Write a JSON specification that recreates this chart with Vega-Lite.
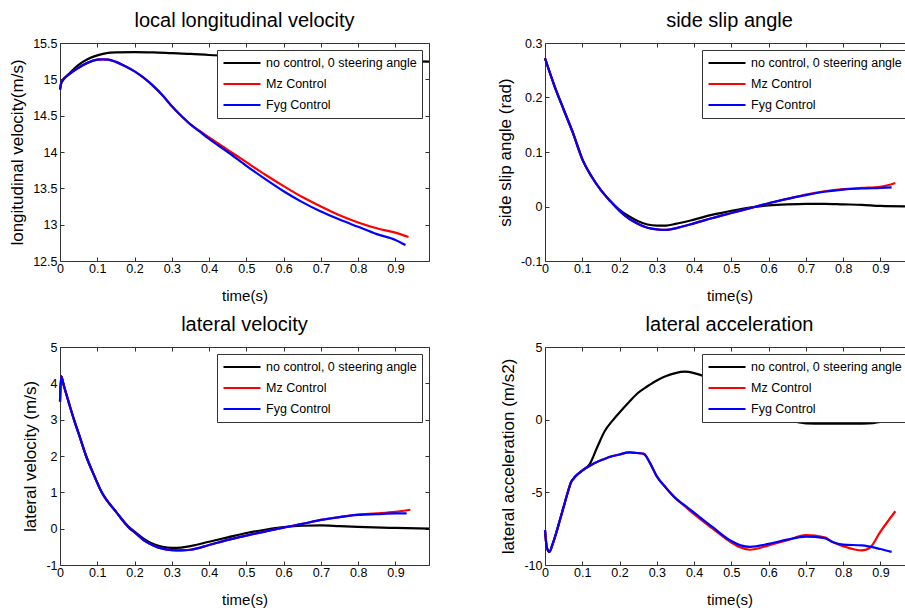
{
  "$schema": "https://vega.github.io/schema/vega-lite/v6.json",
  "padding": {"left": 8, "top": 10, "right": 0, "bottom": 0},
  "background": "white",
  "datasets": {
    "lon": [
      {"t":0,"v":14.86,"s":"no control, 0 steering angle"},{"t":0.004,"v":14.96,"s":"no control, 0 steering angle"},{"t":0.025,"v":15.08,"s":"no control, 0 steering angle"},{"t":0.05,"v":15.2,"s":"no control, 0 steering angle"},{"t":0.075,"v":15.28,"s":"no control, 0 steering angle"},{"t":0.1,"v":15.33,"s":"no control, 0 steering angle"},{"t":0.125,"v":15.36,"s":"no control, 0 steering angle"},{"t":0.15,"v":15.37,"s":"no control, 0 steering angle"},{"t":0.2,"v":15.375,"s":"no control, 0 steering angle"},{"t":0.25,"v":15.37,"s":"no control, 0 steering angle"},{"t":0.3,"v":15.36,"s":"no control, 0 steering angle"},{"t":0.35,"v":15.35,"s":"no control, 0 steering angle"},{"t":0.4,"v":15.335,"s":"no control, 0 steering angle"},{"t":0.5,"v":15.32,"s":"no control, 0 steering angle"},{"t":0.6,"v":15.3,"s":"no control, 0 steering angle"},{"t":0.7,"v":15.285,"s":"no control, 0 steering angle"},{"t":0.8,"v":15.27,"s":"no control, 0 steering angle"},{"t":0.9,"v":15.255,"s":"no control, 0 steering angle"},{"t":0.99,"v":15.245,"s":"no control, 0 steering angle"},
      {"t":0,"v":14.86,"s":"Mz Control"},{"t":0.004,"v":14.96,"s":"Mz Control"},{"t":0.025,"v":15.07,"s":"Mz Control"},{"t":0.05,"v":15.16,"s":"Mz Control"},{"t":0.075,"v":15.23,"s":"Mz Control"},{"t":0.1,"v":15.27,"s":"Mz Control"},{"t":0.115,"v":15.275,"s":"Mz Control"},{"t":0.13,"v":15.27,"s":"Mz Control"},{"t":0.15,"v":15.24,"s":"Mz Control"},{"t":0.175,"v":15.18,"s":"Mz Control"},{"t":0.2,"v":15.11,"s":"Mz Control"},{"t":0.225,"v":15.02,"s":"Mz Control"},{"t":0.25,"v":14.91,"s":"Mz Control"},{"t":0.275,"v":14.78,"s":"Mz Control"},{"t":0.3,"v":14.63,"s":"Mz Control"},{"t":0.325,"v":14.5,"s":"Mz Control"},{"t":0.35,"v":14.38,"s":"Mz Control"},{"t":0.375,"v":14.29,"s":"Mz Control"},{"t":0.4,"v":14.2,"s":"Mz Control"},{"t":0.45,"v":14.03,"s":"Mz Control"},{"t":0.5,"v":13.86,"s":"Mz Control"},{"t":0.55,"v":13.69,"s":"Mz Control"},{"t":0.6,"v":13.53,"s":"Mz Control"},{"t":0.65,"v":13.38,"s":"Mz Control"},{"t":0.7,"v":13.25,"s":"Mz Control"},{"t":0.75,"v":13.13,"s":"Mz Control"},{"t":0.8,"v":13.03,"s":"Mz Control"},{"t":0.85,"v":12.95,"s":"Mz Control"},{"t":0.9,"v":12.89,"s":"Mz Control"},{"t":0.935,"v":12.83,"s":"Mz Control"},
      {"t":0,"v":14.86,"s":"Fyg Control"},{"t":0.004,"v":14.96,"s":"Fyg Control"},{"t":0.025,"v":15.07,"s":"Fyg Control"},{"t":0.05,"v":15.16,"s":"Fyg Control"},{"t":0.075,"v":15.23,"s":"Fyg Control"},{"t":0.1,"v":15.27,"s":"Fyg Control"},{"t":0.115,"v":15.275,"s":"Fyg Control"},{"t":0.13,"v":15.27,"s":"Fyg Control"},{"t":0.15,"v":15.24,"s":"Fyg Control"},{"t":0.175,"v":15.18,"s":"Fyg Control"},{"t":0.2,"v":15.11,"s":"Fyg Control"},{"t":0.225,"v":15.02,"s":"Fyg Control"},{"t":0.25,"v":14.91,"s":"Fyg Control"},{"t":0.275,"v":14.78,"s":"Fyg Control"},{"t":0.3,"v":14.63,"s":"Fyg Control"},{"t":0.325,"v":14.5,"s":"Fyg Control"},{"t":0.35,"v":14.38,"s":"Fyg Control"},{"t":0.375,"v":14.28,"s":"Fyg Control"},{"t":0.4,"v":14.18,"s":"Fyg Control"},{"t":0.45,"v":14.0,"s":"Fyg Control"},{"t":0.5,"v":13.81,"s":"Fyg Control"},{"t":0.55,"v":13.63,"s":"Fyg Control"},{"t":0.6,"v":13.46,"s":"Fyg Control"},{"t":0.65,"v":13.31,"s":"Fyg Control"},{"t":0.7,"v":13.18,"s":"Fyg Control"},{"t":0.75,"v":13.07,"s":"Fyg Control"},{"t":0.8,"v":12.97,"s":"Fyg Control"},{"t":0.85,"v":12.87,"s":"Fyg Control"},{"t":0.9,"v":12.79,"s":"Fyg Control"},{"t":0.927,"v":12.72,"s":"Fyg Control"}
    ],
    "slip": [
      {"t":0,"v":0.272,"s":"no control, 0 steering angle"},{"t":0.025,"v":0.222,"s":"no control, 0 steering angle"},{"t":0.05,"v":0.178,"s":"no control, 0 steering angle"},{"t":0.075,"v":0.135,"s":"no control, 0 steering angle"},{"t":0.1,"v":0.087,"s":"no control, 0 steering angle"},{"t":0.125,"v":0.055,"s":"no control, 0 steering angle"},{"t":0.15,"v":0.03,"s":"no control, 0 steering angle"},{"t":0.175,"v":0.01,"s":"no control, 0 steering angle"},{"t":0.2,"v":-0.006,"s":"no control, 0 steering angle"},{"t":0.225,"v":-0.018,"s":"no control, 0 steering angle"},{"t":0.25,"v":-0.027,"s":"no control, 0 steering angle"},{"t":0.275,"v":-0.033,"s":"no control, 0 steering angle"},{"t":0.3,"v":-0.035,"s":"no control, 0 steering angle"},{"t":0.325,"v":-0.035,"s":"no control, 0 steering angle"},{"t":0.35,"v":-0.032,"s":"no control, 0 steering angle"},{"t":0.4,"v":-0.024,"s":"no control, 0 steering angle"},{"t":0.45,"v":-0.015,"s":"no control, 0 steering angle"},{"t":0.5,"v":-0.008,"s":"no control, 0 steering angle"},{"t":0.55,"v":-0.002,"s":"no control, 0 steering angle"},{"t":0.6,"v":0.002,"s":"no control, 0 steering angle"},{"t":0.65,"v":0.004,"s":"no control, 0 steering angle"},{"t":0.7,"v":0.005,"s":"no control, 0 steering angle"},{"t":0.75,"v":0.005,"s":"no control, 0 steering angle"},{"t":0.8,"v":0.004,"s":"no control, 0 steering angle"},{"t":0.85,"v":0.003,"s":"no control, 0 steering angle"},{"t":0.9,"v":0.001,"s":"no control, 0 steering angle"},{"t":0.99,"v":0.0,"s":"no control, 0 steering angle"},
      {"t":0,"v":0.272,"s":"Mz Control"},{"t":0.025,"v":0.222,"s":"Mz Control"},{"t":0.05,"v":0.178,"s":"Mz Control"},{"t":0.075,"v":0.135,"s":"Mz Control"},{"t":0.1,"v":0.087,"s":"Mz Control"},{"t":0.125,"v":0.055,"s":"Mz Control"},{"t":0.15,"v":0.03,"s":"Mz Control"},{"t":0.175,"v":0.01,"s":"Mz Control"},{"t":0.2,"v":-0.008,"s":"Mz Control"},{"t":0.225,"v":-0.022,"s":"Mz Control"},{"t":0.25,"v":-0.032,"s":"Mz Control"},{"t":0.275,"v":-0.039,"s":"Mz Control"},{"t":0.3,"v":-0.042,"s":"Mz Control"},{"t":0.325,"v":-0.043,"s":"Mz Control"},{"t":0.35,"v":-0.04,"s":"Mz Control"},{"t":0.4,"v":-0.031,"s":"Mz Control"},{"t":0.45,"v":-0.021,"s":"Mz Control"},{"t":0.5,"v":-0.012,"s":"Mz Control"},{"t":0.55,"v":-0.003,"s":"Mz Control"},{"t":0.6,"v":0.006,"s":"Mz Control"},{"t":0.65,"v":0.014,"s":"Mz Control"},{"t":0.7,"v":0.022,"s":"Mz Control"},{"t":0.75,"v":0.028,"s":"Mz Control"},{"t":0.8,"v":0.032,"s":"Mz Control"},{"t":0.85,"v":0.034,"s":"Mz Control"},{"t":0.9,"v":0.036,"s":"Mz Control"},{"t":0.94,"v":0.043,"s":"Mz Control"},
      {"t":0,"v":0.272,"s":"Fyg Control"},{"t":0.025,"v":0.222,"s":"Fyg Control"},{"t":0.05,"v":0.178,"s":"Fyg Control"},{"t":0.075,"v":0.135,"s":"Fyg Control"},{"t":0.1,"v":0.087,"s":"Fyg Control"},{"t":0.125,"v":0.055,"s":"Fyg Control"},{"t":0.15,"v":0.03,"s":"Fyg Control"},{"t":0.175,"v":0.01,"s":"Fyg Control"},{"t":0.2,"v":-0.008,"s":"Fyg Control"},{"t":0.225,"v":-0.022,"s":"Fyg Control"},{"t":0.25,"v":-0.032,"s":"Fyg Control"},{"t":0.275,"v":-0.039,"s":"Fyg Control"},{"t":0.3,"v":-0.042,"s":"Fyg Control"},{"t":0.325,"v":-0.043,"s":"Fyg Control"},{"t":0.35,"v":-0.04,"s":"Fyg Control"},{"t":0.4,"v":-0.031,"s":"Fyg Control"},{"t":0.45,"v":-0.021,"s":"Fyg Control"},{"t":0.5,"v":-0.012,"s":"Fyg Control"},{"t":0.55,"v":-0.003,"s":"Fyg Control"},{"t":0.6,"v":0.006,"s":"Fyg Control"},{"t":0.65,"v":0.014,"s":"Fyg Control"},{"t":0.7,"v":0.021,"s":"Fyg Control"},{"t":0.75,"v":0.027,"s":"Fyg Control"},{"t":0.8,"v":0.031,"s":"Fyg Control"},{"t":0.85,"v":0.033,"s":"Fyg Control"},{"t":0.9,"v":0.034,"s":"Fyg Control"},{"t":0.93,"v":0.035,"s":"Fyg Control"}
    ],
    "latv": [
      {"t":0,"v":3.5,"s":"no control, 0 steering angle"},{"t":0.003,"v":4.2,"s":"no control, 0 steering angle"},{"t":0.01,"v":3.95,"s":"no control, 0 steering angle"},{"t":0.025,"v":3.42,"s":"no control, 0 steering angle"},{"t":0.0375,"v":3.0,"s":"no control, 0 steering angle"},{"t":0.05,"v":2.62,"s":"no control, 0 steering angle"},{"t":0.07,"v":2.0,"s":"no control, 0 steering angle"},{"t":0.09,"v":1.5,"s":"no control, 0 steering angle"},{"t":0.112,"v":1.0,"s":"no control, 0 steering angle"},{"t":0.15,"v":0.47,"s":"no control, 0 steering angle"},{"t":0.1875,"v":0.02,"s":"no control, 0 steering angle"},{"t":0.2,"v":-0.08,"s":"no control, 0 steering angle"},{"t":0.225,"v":-0.28,"s":"no control, 0 steering angle"},{"t":0.25,"v":-0.42,"s":"no control, 0 steering angle"},{"t":0.275,"v":-0.5,"s":"no control, 0 steering angle"},{"t":0.3,"v":-0.53,"s":"no control, 0 steering angle"},{"t":0.325,"v":-0.52,"s":"no control, 0 steering angle"},{"t":0.35,"v":-0.48,"s":"no control, 0 steering angle"},{"t":0.4,"v":-0.36,"s":"no control, 0 steering angle"},{"t":0.45,"v":-0.24,"s":"no control, 0 steering angle"},{"t":0.5,"v":-0.12,"s":"no control, 0 steering angle"},{"t":0.55,"v":-0.03,"s":"no control, 0 steering angle"},{"t":0.6,"v":0.04,"s":"no control, 0 steering angle"},{"t":0.65,"v":0.08,"s":"no control, 0 steering angle"},{"t":0.7,"v":0.09,"s":"no control, 0 steering angle"},{"t":0.75,"v":0.07,"s":"no control, 0 steering angle"},{"t":0.8,"v":0.05,"s":"no control, 0 steering angle"},{"t":0.9,"v":0.02,"s":"no control, 0 steering angle"},{"t":0.99,"v":0.0,"s":"no control, 0 steering angle"},
      {"t":0,"v":3.5,"s":"Mz Control"},{"t":0.003,"v":4.2,"s":"Mz Control"},{"t":0.01,"v":3.95,"s":"Mz Control"},{"t":0.025,"v":3.42,"s":"Mz Control"},{"t":0.0375,"v":3.0,"s":"Mz Control"},{"t":0.05,"v":2.62,"s":"Mz Control"},{"t":0.07,"v":2.0,"s":"Mz Control"},{"t":0.09,"v":1.5,"s":"Mz Control"},{"t":0.112,"v":1.0,"s":"Mz Control"},{"t":0.15,"v":0.47,"s":"Mz Control"},{"t":0.1875,"v":0.0,"s":"Mz Control"},{"t":0.2,"v":-0.1,"s":"Mz Control"},{"t":0.225,"v":-0.32,"s":"Mz Control"},{"t":0.25,"v":-0.46,"s":"Mz Control"},{"t":0.275,"v":-0.55,"s":"Mz Control"},{"t":0.3,"v":-0.59,"s":"Mz Control"},{"t":0.325,"v":-0.6,"s":"Mz Control"},{"t":0.35,"v":-0.58,"s":"Mz Control"},{"t":0.4,"v":-0.45,"s":"Mz Control"},{"t":0.45,"v":-0.31,"s":"Mz Control"},{"t":0.5,"v":-0.19,"s":"Mz Control"},{"t":0.55,"v":-0.08,"s":"Mz Control"},{"t":0.6,"v":0.03,"s":"Mz Control"},{"t":0.65,"v":0.13,"s":"Mz Control"},{"t":0.7,"v":0.24,"s":"Mz Control"},{"t":0.75,"v":0.32,"s":"Mz Control"},{"t":0.8,"v":0.39,"s":"Mz Control"},{"t":0.85,"v":0.42,"s":"Mz Control"},{"t":0.9,"v":0.46,"s":"Mz Control"},{"t":0.94,"v":0.52,"s":"Mz Control"},
      {"t":0,"v":3.5,"s":"Fyg Control"},{"t":0.003,"v":4.2,"s":"Fyg Control"},{"t":0.01,"v":3.95,"s":"Fyg Control"},{"t":0.025,"v":3.42,"s":"Fyg Control"},{"t":0.0375,"v":3.0,"s":"Fyg Control"},{"t":0.05,"v":2.62,"s":"Fyg Control"},{"t":0.07,"v":2.0,"s":"Fyg Control"},{"t":0.09,"v":1.5,"s":"Fyg Control"},{"t":0.112,"v":1.0,"s":"Fyg Control"},{"t":0.15,"v":0.47,"s":"Fyg Control"},{"t":0.1875,"v":0.0,"s":"Fyg Control"},{"t":0.2,"v":-0.1,"s":"Fyg Control"},{"t":0.225,"v":-0.32,"s":"Fyg Control"},{"t":0.25,"v":-0.46,"s":"Fyg Control"},{"t":0.275,"v":-0.55,"s":"Fyg Control"},{"t":0.3,"v":-0.59,"s":"Fyg Control"},{"t":0.325,"v":-0.6,"s":"Fyg Control"},{"t":0.35,"v":-0.58,"s":"Fyg Control"},{"t":0.4,"v":-0.45,"s":"Fyg Control"},{"t":0.45,"v":-0.31,"s":"Fyg Control"},{"t":0.5,"v":-0.19,"s":"Fyg Control"},{"t":0.55,"v":-0.08,"s":"Fyg Control"},{"t":0.6,"v":0.03,"s":"Fyg Control"},{"t":0.65,"v":0.13,"s":"Fyg Control"},{"t":0.7,"v":0.24,"s":"Fyg Control"},{"t":0.75,"v":0.32,"s":"Fyg Control"},{"t":0.8,"v":0.38,"s":"Fyg Control"},{"t":0.85,"v":0.4,"s":"Fyg Control"},{"t":0.9,"v":0.42,"s":"Fyg Control"},{"t":0.93,"v":0.42,"s":"Fyg Control"}
    ],
    "lata": [
      {"t":0,"v":-7.6,"s":"no control, 0 steering angle"},{"t":0.005,"v":-8.8,"s":"no control, 0 steering angle"},{"t":0.012,"v":-9.1,"s":"no control, 0 steering angle"},{"t":0.02,"v":-8.6,"s":"no control, 0 steering angle"},{"t":0.03,"v":-7.8,"s":"no control, 0 steering angle"},{"t":0.04,"v":-6.9,"s":"no control, 0 steering angle"},{"t":0.05,"v":-6.0,"s":"no control, 0 steering angle"},{"t":0.06,"v":-5.1,"s":"no control, 0 steering angle"},{"t":0.07,"v":-4.3,"s":"no control, 0 steering angle"},{"t":0.08,"v":-3.95,"s":"no control, 0 steering angle"},{"t":0.1,"v":-3.5,"s":"no control, 0 steering angle"},{"t":0.12,"v":-3.05,"s":"no control, 0 steering angle"},{"t":0.14,"v":-1.9,"s":"no control, 0 steering angle"},{"t":0.16,"v":-0.8,"s":"no control, 0 steering angle"},{"t":0.18,"v":-0.1,"s":"no control, 0 steering angle"},{"t":0.2,"v":0.5,"s":"no control, 0 steering angle"},{"t":0.225,"v":1.2,"s":"no control, 0 steering angle"},{"t":0.25,"v":1.85,"s":"no control, 0 steering angle"},{"t":0.275,"v":2.3,"s":"no control, 0 steering angle"},{"t":0.3,"v":2.7,"s":"no control, 0 steering angle"},{"t":0.325,"v":3.0,"s":"no control, 0 steering angle"},{"t":0.35,"v":3.2,"s":"no control, 0 steering angle"},{"t":0.375,"v":3.3,"s":"no control, 0 steering angle"},{"t":0.4,"v":3.2,"s":"no control, 0 steering angle"},{"t":0.425,"v":3.0,"s":"no control, 0 steering angle"},{"t":0.45,"v":2.6,"s":"no control, 0 steering angle"},{"t":0.5,"v":1.8,"s":"no control, 0 steering angle"},{"t":0.55,"v":1.0,"s":"no control, 0 steering angle"},{"t":0.6,"v":0.4,"s":"no control, 0 steering angle"},{"t":0.65,"v":0.0,"s":"no control, 0 steering angle"},{"t":0.7,"v":-0.25,"s":"no control, 0 steering angle"},{"t":0.75,"v":-0.28,"s":"no control, 0 steering angle"},{"t":0.8,"v":-0.28,"s":"no control, 0 steering angle"},{"t":0.85,"v":-0.27,"s":"no control, 0 steering angle"},{"t":0.88,"v":-0.24,"s":"no control, 0 steering angle"},{"t":0.9,"v":-0.15,"s":"no control, 0 steering angle"},{"t":0.99,"v":-0.1,"s":"no control, 0 steering angle"},
      {"t":0,"v":-7.6,"s":"Mz Control"},{"t":0.005,"v":-8.8,"s":"Mz Control"},{"t":0.012,"v":-9.1,"s":"Mz Control"},{"t":0.02,"v":-8.6,"s":"Mz Control"},{"t":0.03,"v":-7.8,"s":"Mz Control"},{"t":0.04,"v":-6.9,"s":"Mz Control"},{"t":0.05,"v":-6.0,"s":"Mz Control"},{"t":0.06,"v":-5.1,"s":"Mz Control"},{"t":0.07,"v":-4.3,"s":"Mz Control"},{"t":0.08,"v":-3.95,"s":"Mz Control"},{"t":0.1,"v":-3.5,"s":"Mz Control"},{"t":0.125,"v":-3.1,"s":"Mz Control"},{"t":0.15,"v":-2.8,"s":"Mz Control"},{"t":0.175,"v":-2.55,"s":"Mz Control"},{"t":0.2,"v":-2.4,"s":"Mz Control"},{"t":0.225,"v":-2.25,"s":"Mz Control"},{"t":0.25,"v":-2.3,"s":"Mz Control"},{"t":0.265,"v":-2.35,"s":"Mz Control"},{"t":0.28,"v":-2.9,"s":"Mz Control"},{"t":0.3,"v":-3.9,"s":"Mz Control"},{"t":0.325,"v":-4.7,"s":"Mz Control"},{"t":0.35,"v":-5.4,"s":"Mz Control"},{"t":0.375,"v":-5.95,"s":"Mz Control"},{"t":0.4,"v":-6.5,"s":"Mz Control"},{"t":0.45,"v":-7.5,"s":"Mz Control"},{"t":0.5,"v":-8.45,"s":"Mz Control"},{"t":0.525,"v":-8.8,"s":"Mz Control"},{"t":0.55,"v":-8.95,"s":"Mz Control"},{"t":0.6,"v":-8.65,"s":"Mz Control"},{"t":0.65,"v":-8.3,"s":"Mz Control"},{"t":0.7,"v":-7.95,"s":"Mz Control"},{"t":0.75,"v":-8.1,"s":"Mz Control"},{"t":0.77,"v":-8.4,"s":"Mz Control"},{"t":0.8,"v":-8.7,"s":"Mz Control"},{"t":0.85,"v":-9.0,"s":"Mz Control"},{"t":0.87,"v":-8.85,"s":"Mz Control"},{"t":0.9,"v":-7.7,"s":"Mz Control"},{"t":0.94,"v":-6.3,"s":"Mz Control"},
      {"t":0,"v":-7.6,"s":"Fyg Control"},{"t":0.005,"v":-8.8,"s":"Fyg Control"},{"t":0.012,"v":-9.1,"s":"Fyg Control"},{"t":0.02,"v":-8.6,"s":"Fyg Control"},{"t":0.03,"v":-7.8,"s":"Fyg Control"},{"t":0.04,"v":-6.9,"s":"Fyg Control"},{"t":0.05,"v":-6.0,"s":"Fyg Control"},{"t":0.06,"v":-5.1,"s":"Fyg Control"},{"t":0.07,"v":-4.3,"s":"Fyg Control"},{"t":0.08,"v":-3.95,"s":"Fyg Control"},{"t":0.1,"v":-3.5,"s":"Fyg Control"},{"t":0.125,"v":-3.1,"s":"Fyg Control"},{"t":0.15,"v":-2.8,"s":"Fyg Control"},{"t":0.175,"v":-2.55,"s":"Fyg Control"},{"t":0.2,"v":-2.4,"s":"Fyg Control"},{"t":0.225,"v":-2.25,"s":"Fyg Control"},{"t":0.25,"v":-2.3,"s":"Fyg Control"},{"t":0.265,"v":-2.35,"s":"Fyg Control"},{"t":0.28,"v":-2.9,"s":"Fyg Control"},{"t":0.3,"v":-3.9,"s":"Fyg Control"},{"t":0.325,"v":-4.7,"s":"Fyg Control"},{"t":0.35,"v":-5.4,"s":"Fyg Control"},{"t":0.375,"v":-5.9,"s":"Fyg Control"},{"t":0.4,"v":-6.4,"s":"Fyg Control"},{"t":0.45,"v":-7.4,"s":"Fyg Control"},{"t":0.5,"v":-8.35,"s":"Fyg Control"},{"t":0.525,"v":-8.65,"s":"Fyg Control"},{"t":0.55,"v":-8.75,"s":"Fyg Control"},{"t":0.6,"v":-8.55,"s":"Fyg Control"},{"t":0.65,"v":-8.25,"s":"Fyg Control"},{"t":0.7,"v":-8.05,"s":"Fyg Control"},{"t":0.75,"v":-8.15,"s":"Fyg Control"},{"t":0.77,"v":-8.4,"s":"Fyg Control"},{"t":0.8,"v":-8.6,"s":"Fyg Control"},{"t":0.85,"v":-8.65,"s":"Fyg Control"},{"t":0.9,"v":-8.9,"s":"Fyg Control"},{"t":0.93,"v":-9.1,"s":"Fyg Control"}
    ]
  },
  "columns": 2,
  "bounds": "flush",
  "spacing": {"row": 86, "column": 116},
  "resolve": {"scale": {"color": "independent"}, "legend": {"color": "independent"}},
  "concat": [
    {
      "title": "local longitudinal velocity",
      "width": 369, "height": 218,
      "data": {"name": "lon"},
      "layer": [
        {"mark": {"type": "line"},
         "encoding": {
           "x": {"field": "t", "type": "quantitative", "scale": {"domain": [0, 0.99], "nice": false}, "axis": {"title": "time(s)", "values": [0,0.1,0.2,0.3,0.4,0.5,0.6,0.7,0.8,0.9]}},
           "y": {"field": "v", "type": "quantitative", "scale": {"domain": [12.5, 15.5], "nice": false, "zero": false}, "axis": {"title": "longitudinal velocity(m/s)", "values": [12.5,13,13.5,14,14.5,15,15.5]}},
           "color": {"field": "s", "type": "nominal", "sort": null, "scale": {"domain": ["no control, 0 steering angle", "Mz Control", "Fyg Control"], "range": ["#000000", "#ff0000", "#0000ff"]}, "legend": {"title": null}}
         }},
        {"mark": {"type": "line", "opacity": 0},
         "encoding": {
           "x": {"field": "t", "type": "quantitative", "axis": {"orient": "top", "labels": false, "title": null, "values": [0,0.1,0.2,0.3,0.4,0.5,0.6,0.7,0.8,0.9]}},
           "y": {"field": "v", "type": "quantitative", "axis": {"orient": "right", "labels": false, "title": null, "values": [12.5,13,13.5,14,14.5,15,15.5]}}
         }}
      ],
      "resolve": {"axis": {"x": "independent", "y": "independent"}}
    },
    {
      "title": "side slip angle",
      "width": 369, "height": 218,
      "data": {"name": "slip"},
      "layer": [
        {"mark": {"type": "line"},
         "encoding": {
           "x": {"field": "t", "type": "quantitative", "scale": {"domain": [0, 0.99], "nice": false}, "axis": {"title": "time(s)", "values": [0,0.1,0.2,0.3,0.4,0.5,0.6,0.7,0.8,0.9]}},
           "y": {"field": "v", "type": "quantitative", "scale": {"domain": [-0.1, 0.3], "nice": false, "zero": false}, "axis": {"title": "side slip angle (rad)", "values": [-0.1,0,0.1,0.2,0.3]}},
           "color": {"field": "s", "type": "nominal", "sort": null, "scale": {"domain": ["no control, 0 steering angle", "Mz Control", "Fyg Control"], "range": ["#000000", "#ff0000", "#0000ff"]}, "legend": {"title": null}}
         }},
        {"mark": {"type": "line", "opacity": 0},
         "encoding": {
           "x": {"field": "t", "type": "quantitative", "axis": {"orient": "top", "labels": false, "title": null, "values": [0,0.1,0.2,0.3,0.4,0.5,0.6,0.7,0.8,0.9]}},
           "y": {"field": "v", "type": "quantitative", "axis": {"orient": "right", "labels": false, "title": null, "values": [-0.1,0,0.1,0.2,0.3]}}
         }}
      ],
      "resolve": {"axis": {"x": "independent", "y": "independent"}}
    },
    {
      "title": "lateral velocity",
      "width": 369, "height": 218,
      "data": {"name": "latv"},
      "layer": [
        {"mark": {"type": "line"},
         "encoding": {
           "x": {"field": "t", "type": "quantitative", "scale": {"domain": [0, 0.99], "nice": false}, "axis": {"title": "time(s)", "values": [0,0.1,0.2,0.3,0.4,0.5,0.6,0.7,0.8,0.9]}},
           "y": {"field": "v", "type": "quantitative", "scale": {"domain": [-1, 5], "nice": false, "zero": false}, "axis": {"title": "lateral velocity (m/s)", "values": [-1,0,1,2,3,4,5]}},
           "color": {"field": "s", "type": "nominal", "sort": null, "scale": {"domain": ["no control, 0 steering angle", "Mz Control", "Fyg Control"], "range": ["#000000", "#ff0000", "#0000ff"]}, "legend": {"title": null}}
         }},
        {"mark": {"type": "line", "opacity": 0},
         "encoding": {
           "x": {"field": "t", "type": "quantitative", "axis": {"orient": "top", "labels": false, "title": null, "values": [0,0.1,0.2,0.3,0.4,0.5,0.6,0.7,0.8,0.9]}},
           "y": {"field": "v", "type": "quantitative", "axis": {"orient": "right", "labels": false, "title": null, "values": [-1,0,1,2,3,4,5]}}
         }}
      ],
      "resolve": {"axis": {"x": "independent", "y": "independent"}}
    },
    {
      "title": "lateral acceleration",
      "width": 369, "height": 218,
      "data": {"name": "lata"},
      "layer": [
        {"mark": {"type": "line"},
         "encoding": {
           "x": {"field": "t", "type": "quantitative", "scale": {"domain": [0, 0.99], "nice": false}, "axis": {"title": "time(s)", "values": [0,0.1,0.2,0.3,0.4,0.5,0.6,0.7,0.8,0.9]}},
           "y": {"field": "v", "type": "quantitative", "scale": {"domain": [-10, 5], "nice": false, "zero": false}, "axis": {"title": "lateral acceleration (m/s2)", "values": [-10,-5,0,5]}},
           "color": {"field": "s", "type": "nominal", "sort": null, "scale": {"domain": ["no control, 0 steering angle", "Mz Control", "Fyg Control"], "range": ["#000000", "#ff0000", "#0000ff"]}, "legend": {"title": null}}
         }},
        {"mark": {"type": "line", "opacity": 0},
         "encoding": {
           "x": {"field": "t", "type": "quantitative", "axis": {"orient": "top", "labels": false, "title": null, "values": [0,0.1,0.2,0.3,0.4,0.5,0.6,0.7,0.8,0.9]}},
           "y": {"field": "v", "type": "quantitative", "axis": {"orient": "right", "labels": false, "title": null, "values": [-10,-5,0,5]}}
         }}
      ],
      "resolve": {"axis": {"x": "independent", "y": "independent"}}
    }
  ],
  "config": {
    "font": "Liberation Sans",
    "view": {"stroke": "#333333", "strokeWidth": 1},
    "line": {"strokeWidth": 2.2, "interpolate": "monotone"},
    "axis": {
      "domain": false, "grid": false,
      "tickSize": -4, "tickColor": "#333333", "tickWidth": 1,
      "labelPadding": 7, "labelFont": "Liberation Sans", "labelFontSize": 12.5, "labelColor": "#000000",
      "labelFlush": false, "labelOverlap": false,
      "labelExpr": "datum.value < 0 ? '-' + format(-datum.value, '~g') : format(datum.value, '~g')",
      "titleFont": "Liberation Sans", "titleFontSize": 15, "titleFontWeight": "normal", "titleColor": "#000000", "titlePadding": 8
    },
    "axisX": {"labelPadding": 5, "titlePadding": 14},
    "axisY": {"titleFontSize": 17, "titlePadding": 6},
    "legend": {
      "orient": "top-right", "offset": 7, "padding": 5,
      "fillColor": "white", "strokeColor": "#333333",
      "symbolType": "stroke", "symbolSize": 1369, "symbolStrokeWidth": 2.5,
      "clipHeight": 16, "rowPadding": 5,
      "labelFont": "Liberation Sans", "labelFontSize": 12.5, "labelColor": "#000000", "labelOffset": 4, "labelLimit": 0
    },
    "title": {"font": "Liberation Sans", "fontSize": 20, "fontWeight": "normal", "color": "#000000", "offset": 6, "anchor": "middle", "baseline": "alphabetic", "frame": "group"}
  }
}
